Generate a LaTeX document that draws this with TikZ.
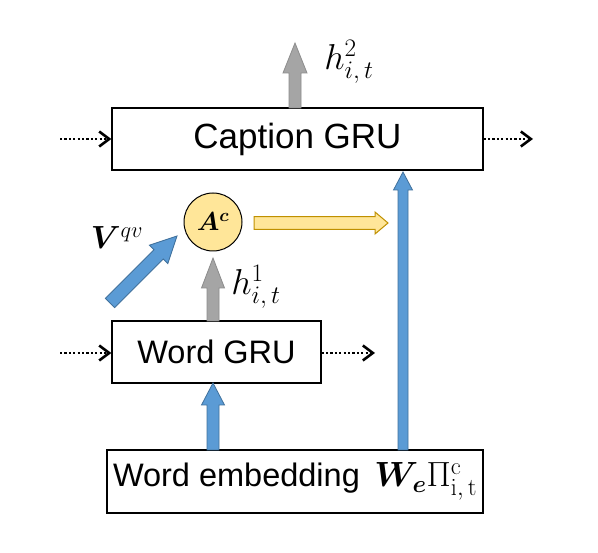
\RequirePackage{fix-cm}
\documentclass[tikz,border=0pt]{standalone}
\usepackage{amsmath}
\usepackage{bm}
\usepackage[no-math]{fontspec}
\setmainfont{Liberation Sans}
\usetikzlibrary{calc,arrows.meta}
\definecolor{blueF}{HTML}{5B9BD5}
\definecolor{blueD}{HTML}{41719C}
\definecolor{grayF}{HTML}{A5A5A5}
\definecolor{grayD}{HTML}{8C8C8C}
\definecolor{yelF}{HTML}{FFE699}
\definecolor{yelD}{HTML}{BF9000}
\newcommand\blockarrow[6]{%
  \coordinate (bhS) at (#2);
  \coordinate (bhE) at (#3);
  \coordinate (bhH) at ($(bhE)!#6!(bhS)$);
  \path[#1] ($(bhS)!#4!90:(bhE)$) -- ($(bhH)!#4!90:(bhE)$) -- ($(bhH)!#5!90:(bhE)$) -- (bhE)
    -- ($(bhH)!#5!-90:(bhE)$) -- ($(bhH)!#4!-90:(bhE)$) -- ($(bhS)!#4!-90:(bhE)$) -- cycle;
}
\tikzset{
  gru/.style={draw=black, line width=1.2pt, fill=white, inner sep=0pt},
  bluearr/.style={fill=blueF, draw=blueD, line width=0.8pt},
  grayarr/.style={fill=grayF, draw=grayD, line width=0.8pt},
  yelarr/.style={fill=yelF, draw=yelD, line width=1pt},
  dotarr/.style={line width=2.6pt, dash pattern=on 2.2pt off 2.2pt,
    -{Straight Barb[length=10pt,width=15pt,line width=2.6pt]}},
  lbl/.style={inner sep=0pt}
}
\begin{document}
\begin{tikzpicture}[x=1pt,y=-1pt]
\useasboundingbox (0,0) rectangle (598,553);
\fill[white] (0,0) rectangle (598,553);
% boxes
\node[gru, minimum width=371pt, minimum height=62pt, font=\fontsize{35}{42}\selectfont] (cap) at (297.5,139) {Caption GRU};
\node[gru, minimum width=209pt, minimum height=62pt, font=\fontsize{32.5}{39}\selectfont] (word) at (216.5,352) {Word GRU};
\node[gru, minimum width=376pt, minimum height=63pt, font=\fontsize{32.5}{38}\selectfont] (emb) at (295,481.5) {Word embedding \,{\fontsize{35}{40}\selectfont$\bm{W_{e}}\Pi^{\mathrm{c}}_{\mathrm{i,\,t}}$}};
\node[circle, draw=black, line width=1pt, fill=yelF, minimum size=58pt, inner sep=0pt, font=\fontsize{26}{31}\selectfont] (att) at (213,222) {$\bm{A^{c}}$};
% coordinates
\coordinate (capout) at (295,43);
\coordinate (capbase) at (295,108);
\coordinate (wordtop) at (213,321);
\coordinate (atttip) at (213,258);
\coordinate (embtopL) at (213,450);
\coordinate (wordin) at (213,383);
\coordinate (embtopR) at (403,450);
\coordinate (capin) at (403,172);
\coordinate (vtail) at (110,303);
\coordinate (vtip) at (177,236);
\coordinate (ystart) at (254,223);
\coordinate (yend) at (388,223);
\coordinate (capL) at (60,139);
\coordinate (capR) at (533,139);
\coordinate (wordL) at (60,353);
\coordinate (wordR) at (375,353);
% block arrows
\blockarrow{grayarr}{capbase}{capout}{6pt}{12pt}{30pt}
\blockarrow{grayarr}{wordtop}{atttip}{6pt}{11.5pt}{30pt}
\blockarrow{bluearr}{embtopL}{wordin}{6pt}{11.5pt}{22pt}
\blockarrow{bluearr}{embtopR}{capin}{5pt}{9.5pt}{18pt}
\blockarrow{bluearr}{vtail}{vtip}{6.5pt}{13pt}{26pt}
\blockarrow{yelarr}{ystart}{yend}{6.3pt}{11pt}{13pt}
% dotted arrows
\draw[dotarr] (capL) -- (cap.west);
\draw[dotarr] (cap.east) -- (capR);
\draw[dotarr] (wordL) -- (word.west |- wordL);
\draw[dotarr] (word.east |- wordR) -- (wordR);
% labels
\node[lbl, font=\fontsize{36}{42}\selectfont] (h2) at (349,62) {$h^{2}_{i,\,t}$};
\node[lbl, font=\fontsize{36}{42}\selectfont] (h1) at (256,287) {$h^{1}_{i,\,t}$};
\node[lbl, font=\fontsize{32}{38}\selectfont] (vqv) at (117,238) {$\bm{V}^{qv}$};
\end{tikzpicture}
\end{document}
